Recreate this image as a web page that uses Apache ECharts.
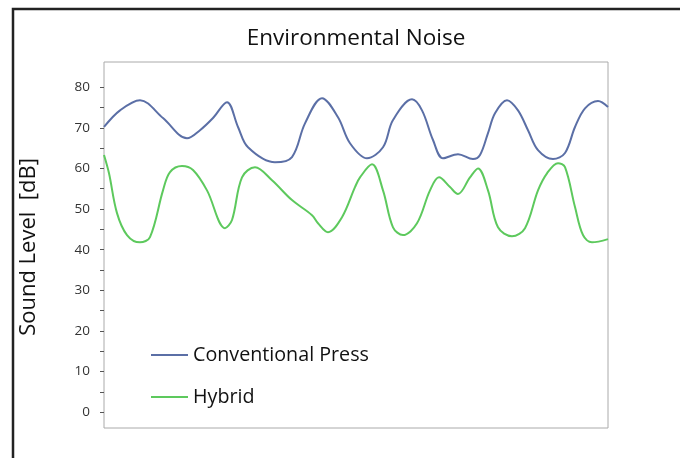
<!DOCTYPE html>
<html>
<head>
<meta charset="utf-8">
<script src="https://cdn.jsdelivr.net/npm/echarts@6/dist/echarts.min.js"></script>
<style>
html,body{margin:0;padding:0;background:#fff;}
#chart{width:680px;height:458px;}
</style>
</head>
<body>
<div id="chart"></div>
<script>
// Time positions (arbitrary units along the x axis) and sound levels (dB)
var convT = [0,16,36,59,83,96,109,123,134,144,171,188,201,218,234,246,263,279,289,308,318,329,339,354,369,376,384,391,403,414,424,434,449,461,471,481,494,504];
var convV = [70.2,74.3,76.8,72.4,67.4,69.4,72.4,76.3,70.2,65.2,61.5,62.8,71.1,77.3,72.6,66.2,62.5,65.2,71.9,77.0,74.3,67.0,62.5,63.5,62.3,63.3,68.7,73.6,76.8,74.3,69.4,64.5,62.3,63.8,70.2,74.8,76.6,75.1];

var hybT = [0,5,13,23,36,46,59,66,78,89,103,121,128,138,151,168,188,208,214,224,238,251,256,268,279,289,299,313,326,335,346,354,366,374,384,394,408,421,434,443,454,461,471,479,488,504];
var hybV = [63.3,58.8,49.0,43.6,41.8,43.1,54.6,59.1,60.6,59.6,54.6,45.3,47.3,57.8,60.3,57.1,52.2,48.5,46.5,44.3,48.0,55.4,57.8,61.0,54.6,45.5,43.6,46.5,54.6,57.8,55.4,53.7,57.8,60.0,54.6,45.5,43.3,45.3,54.6,58.8,61.3,60.3,50.5,43.6,41.8,42.6];

var yTicks = [0,5,10,15,20,25,30,35,40,45,50,55,60,65,70,75,80];
var yLabels = [0,10,20,30,40,50,60,70,80];

var seriesNames = ['Conventional Press', 'Hybrid'];
var titleText = 'Environmental Noise';
var yTitle = 'Sound Level  [dB]';

function pairs(t, v){ return t.map(function(x,i){ return [x, v[i]]; }); }

var chart = echarts.init(document.getElementById('chart'), null, {renderer:'canvas'});
var FONT = 'Open Sans';
chart.setOption({
  animation:false,
  backgroundColor:'#fff',
  title:{
    text:titleText, left:351, textAlign:'center', top:22,
    textStyle:{fontFamily:FONT, fontSize:22.5, fontWeight:'normal', color:'#111'}
  },
  graphic:[
    {type:'rect', shape:{x:13, y:9, width:720, height:500},
     style:{fill:'none', stroke:'#222', lineWidth:2.5}, z:100},
    {type:'text', x:29, y:247, rotation:Math.PI/2,
     style:{text:yTitle, fontFamily:FONT, fontSize:22, fill:'#111',
            align:'center', verticalAlign:'middle'}}
  ],
  legend:{
    orient:'vertical', left:146, top:338,
    itemWidth:37, itemHeight:2, itemGap:18, icon:'rect',
    textStyle:{fontFamily:FONT, fontSize:19.7, color:'#111', lineHeight:24},
    data:seriesNames
  },
  grid:{left:104, right:72, top:62, bottom:30, show:true, borderColor:'#aaa', borderWidth:1},
  xAxis:{type:'value', min:0, max:504, axisLine:{show:false}, axisTick:{show:false},
         axisLabel:{show:false}, splitLine:{show:false}},
  yAxis:{type:'value', min:-3.9, max:86.2,
         axisLine:{show:false},
         axisTick:{show:true, length:4, customValues:yTicks, lineStyle:{color:'#555'}},
         axisLabel:{customValues:yLabels, margin:14, fontFamily:FONT, fontSize:13.5, color:'#333'},
         splitLine:{show:false}},
  series:[
    {name:seriesNames[0], type:'line', data:pairs(convT, convV), smooth:0.35,
     showSymbol:false, symbol:'none', lineStyle:{color:'#5b6fa6', width:2}, itemStyle:{color:'#5b6fa6'}},
    {name:seriesNames[1], type:'line', data:pairs(hybT, hybV), smooth:0.35,
     showSymbol:false, symbol:'none', lineStyle:{color:'#5dc95d', width:2}, itemStyle:{color:'#5dc95d'}}
  ]
});
</script>
</body>
</html>
